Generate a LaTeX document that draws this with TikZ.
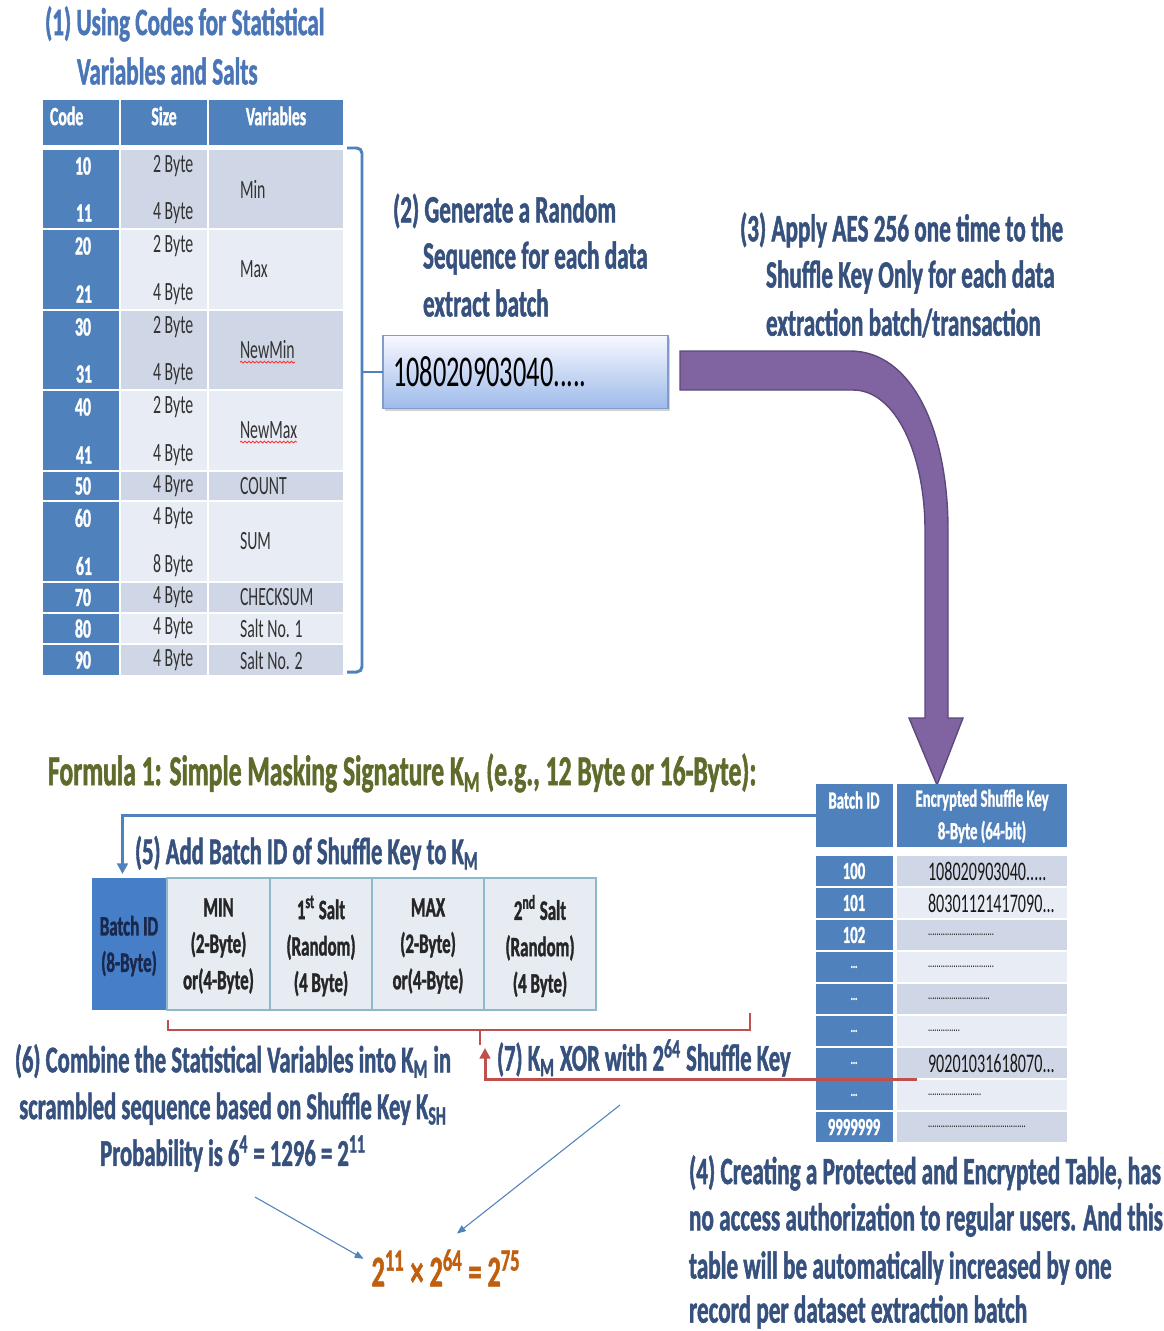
\documentclass[tikz,border=0pt]{standalone}
\usepackage{fontspec}
\setmainfont{Carlito}[FakeStretch=0.6,BoldFeatures={FakeBold=1.2}]
\usetikzlibrary{arrows.meta,calc,shadows,decorations.pathmorphing}
\definecolor{tblue}{HTML}{4F81BD}
\definecolor{hblue}{HTML}{4A76B8}
\definecolor{dkblue}{HTML}{36517D}
\definecolor{olive}{HTML}{5E6B2A}
\definecolor{orng}{HTML}{C0600E}
\definecolor{purp}{HTML}{8064A2}
\definecolor{purpd}{HTML}{5C4A7D}
\definecolor{redl}{HTML}{C0504D}
\definecolor{shDk}{HTML}{CFD7E6}
\definecolor{shLt}{HTML}{E8ECF4}
\definecolor{mbfill}{HTML}{E6ECF2}
\definecolor{mbdraw}{HTML}{8CB8C8}
\newcommand\cellbox[7]{\node[#2,minimum width={(#5-#3)*0.2mm},minimum height={(#6-#4)*0.2mm}] (#1) at ({(#3+#5)/2},{(#4+#6)/2}) {#7};}
\newcommand\dd[1]{{\fontsize{8}{8}\selectfont #1}}
\newcommand\trow[4]{%
  \pgfmathsetmacro\ya{856+(#1-1)*32}%
  \pgfmathsetmacro\yb{\ya+29.5}%
  \cellbox{t2c#1}{codecell}{816}{\ya}{893}{\yb}{}
  \cellbox{t2k#1}{#4}{897}{\ya}{1067}{\yb}{}
  \node[t2txt] (t2ct#1) at ({854},{\ya+15}) {#2};
  \node[keytxt] (t2kt#1) at ({928},{\ya+15}) {#3};
}
\begin{document}
\begin{tikzpicture}[x=0.2mm,y=-0.2mm,
  every node/.style={inner sep=0pt,outer sep=0pt},
  hA/.style={anchor=west,text=hblue,font=\bfseries\fontsize{22}{26}\selectfont},
  hB/.style={anchor=west,text=dkblue,font=\bfseries\fontsize{22}{26}\selectfont},
  hC/.style={anchor=west,text=dkblue,font=\bfseries\fontsize{21.5}{26.6}\selectfont},
  fml/.style={anchor=west,text=olive,font=\bfseries\fontsize{24.3}{28}\selectfont},
  res/.style={text=orng,font=\bfseries\fontsize{25}{30}\selectfont},
  hdr/.style={fill=tblue},
  codecell/.style={fill=tblue},
  cellDk/.style={fill=shDk},
  cellLt/.style={fill=shLt},
  thtxt/.style={text=white,font=\bfseries\fontsize{15}{18}\selectfont},
  codetxt/.style={text=white,font=\bfseries\fontsize{15}{18}\selectfont},
  celltxt/.style={anchor=west,text=black!80,font=\fontsize{15}{18}\selectfont},
  t2txt/.style={text=white,font=\bfseries\fontsize{14}{17}\selectfont},
  keytxt/.style={anchor=west,text=black!90,font=\fontsize{15.3}{17}\selectfont},
  mbcell/.style={fill=mbfill,draw=mbdraw,line width=1.2pt},
  mbtxt/.style={align=center,text=black!85,font=\bfseries\fontsize{16}{20.7}\selectfont},
  numbox/.style={top color=blue!3!white,bottom color={rgb,255:red,157;green,187;blue,234},draw={rgb,255:red,130;green,155;blue,200},line width=0.8pt,drop shadow={opacity=0.35,shadow xshift=1.2pt,shadow yshift=-1.2pt}},
  brk/.style={draw=tblue,line width=1.7pt},
  bline/.style={draw=tblue,line width=1.7pt},
  rdline/.style={draw=redl,line width=1.7pt},
  rdthin/.style={draw=redl,line width=0.7pt},
  thinar/.style={draw=tblue,line width=0.6pt,-{Triangle[width=4pt,length=5pt]}},
  spell/.style={draw=red!80,line width=0.5pt,decorate,decoration={snake,amplitude=0.5pt,segment length=2.2pt}}
]
\fill[white] (0,0) rectangle (1163,1331);
\useasboundingbox (0,0) rectangle (1163,1331);

% (1) heading
\node[hA] (t1a) at (45,24) {(1) Using Codes for Statistical};
\node[hA] (t1b) at (77,71) {Variables and Salts};

% table 1 header
\cellbox{th1}{hdr}{43}{100}{119}{145}{}
\cellbox{th2}{hdr}{121}{100}{207}{145}{}
\cellbox{th3}{hdr}{209}{100}{343}{145}{}
\node[thtxt,anchor=west] (thc) at (50,116) {Code};
\node[thtxt] (ths) at (164,116) {Size};
\node[thtxt] (thv) at (276,116) {Variables};

% table 1 double rows
\foreach \ya/\yb/\ca/\cb/\sa/\sb/\v/\sh [count=\i] in {150/228/10/11/2 Byte/4 Byte/Min/cellDk,230/309/20/21/2 Byte/4 Byte/Max/cellLt,311/389/30/31/2 Byte/4 Byte/NewMin/cellDk,391/470/40/41/2 Byte/4 Byte/NewMax/cellLt,502/581/60/61/4 Byte/8 Byte/SUM/cellLt}{
  \cellbox{dc\i}{codecell}{43}{\ya}{119}{\yb}{}
  \cellbox{ds\i}{\sh}{121}{\ya}{207}{\yb}{}
  \cellbox{dv\i}{\sh}{209}{\ya}{343}{\yb}{}
  \node[codetxt] (dca\i) at ({83},{\ya+16}) {\ca};
  \node[codetxt] (dcb\i) at ({84},{\yb-15}) {\cb};
  \node[celltxt] (dsa\i) at ({153},{\ya+16}) {\sa};
  \node[celltxt] (dsb\i) at ({153},{\yb-15}) {\sb};
  \node[celltxt] (dvv\i) at ({240},{(\ya+\yb)/2}) {\v};
}
% table 1 single rows
\foreach \ya/\yb/\ca/\sa/\v/\sh [count=\i] in {472/500/50/4 Byre/COUNT/cellDk,583/612/70/4 Byte/CHECKSUM/cellDk,614/643/80/4 Byte/Salt No. 1/cellLt,645/675/90/4 Byte/Salt No. 2/cellDk}{
  \cellbox{sc\i}{codecell}{43}{\ya}{119}{\yb}{}
  \cellbox{ss\i}{\sh}{121}{\ya}{207}{\yb}{}
  \cellbox{sv\i}{\sh}{209}{\ya}{343}{\yb}{}
  \node[codetxt] (sca\i) at ({83},{(\ya+\yb)/2}) {\ca};
  \node[celltxt] (ssa\i) at ({153},{(\ya+\yb)/2}) {\sa};
  \node[celltxt] (svv\i) at ({240},{(\ya+\yb)/2}) {\v};
}
\draw[spell] ($(dvv3.south west)+(0,3)$) -- ($(dvv3.south east)+(0,3)$);
\draw[spell] ($(dvv4.south west)+(0,3)$) -- ($(dvv4.south east)+(0,3)$);

% box (2)
\node[numbox,minimum width={285*0.2mm},minimum height={73*0.2mm}] (b2) at (525.5,372) {};
\node[anchor=west,font=\fontsize{25}{29}\selectfont] (b2t) at ($(b2.west)+(10,0)$) {108020903040.....};

% bracket
\draw[brk,rounded corners=3pt] (347,148) -| (362,672) -- (347,672);
\draw[brk] (362,372) -- (b2.west);

% (2) and (3) texts
\node[hB] (t2a) at (393,211) {(2) Generate a Random};
\node[hB] (t2b) at (423,258) {Sequence for each data};
\node[hB] (t2c) at (423,303) {extract batch};
\node[hB] (t3a) at (740,230) {(3) Apply AES 256 one time to the};
\node[hB] (t3b) at (766,277) {Shuffle Key Only for each data};
\node[hB] (t3c) at (766,323) {extraction batch/transaction};

% purple arrow
\filldraw[fill=purp,draw=purpd,line width=0.8pt]
  (680,351) -- (850,351) .. controls (912,351) and (948,430) .. (948,530)
  -- (948,718) -- (963,718) -- (937,785) -- (909,718) -- (925,718) -- (925,530)
  .. controls (925,455) and (896,390) .. (853,390) -- (680,390) -- cycle;

% formula
\node[fml] (f1) at (48,773) {Formula 1: Simple Masking Signature K\textsubscript{M} (e.g., 12 Byte or 16-Byte):};

% table 2
\cellbox{t2h1}{hdr}{816}{784}{893}{847}{}
\cellbox{t2h2}{hdr}{897}{784}{1067}{847}{}
\node[t2txt] (t2hb) at (854,800) {Batch ID};
\node[t2txt] (t2he) at (982,800) {Encrypted Shuffle Key};
\node[t2txt] (t2hs) at (982,832) {8-Byte (64-bit)};
\trow{1}{100}{108020903040.....}{cellDk}
\trow{2}{101}{80301121417090...}{cellLt}
\trow{3}{102}{\dd{...............................}}{cellDk}
\trow{4}{\dd{...}}{\dd{...............................}}{cellLt}
\trow{5}{\dd{...}}{\dd{.............................}}{cellDk}
\trow{6}{\dd{...}}{\dd{...............}}{cellLt}
\trow{7}{\dd{...}}{90201031618070...}{cellDk}
\trow{8}{\dd{...}}{\dd{.........................}}{cellLt}
\trow{9}{9999999}{\dd{..............................................}}{cellDk}

% (5) line and text
\node[hC] (t5) at (135,853) {(5) Add Batch ID of Shuffle Key to K\textsubscript{M}};

% masking table
\cellbox{mb1}{fill={rgb,255:red,70;green,126;blue,200}}{92}{878}{167}{1010}{}
\cellbox{mb2}{mbcell}{167}{878}{270}{1010}{}
\cellbox{mb3}{mbcell}{270}{878}{372}{1010}{}
\cellbox{mb4}{mbcell}{372}{878}{484}{1010}{}
\cellbox{mb5}{mbcell}{484}{878}{596}{1010}{}
\node[mbtxt,text={rgb,255:red,25;green,40;blue,75}] (mb1t) at (129,946) {Batch ID\\(8-Byte)};
\node[mbtxt] (mb2t) at (218.5,946) {MIN\\(2-Byte)\\or(4-Byte)};
\node[mbtxt] (mb3t) at (321,946) {1\textsuperscript{st} Salt\\(Random)\\(4 Byte)};
\node[mbtxt] (mb4t) at (428,946) {MAX\\(2-Byte)\\or(4-Byte)};
\node[mbtxt] (mb5t) at (540,946) {2\textsuperscript{nd} Salt\\(Random)\\(4 Byte)};
\draw[bline,-{Triangle[width=6pt,length=6pt]}] (t2h1.west) -| ($(mb1.north)+(-7,-4)$);

% red bracket
\coordinate (rbL) at ($(mb2.south west)+(1,10)$);
\coordinate (rbR) at (750,1013);
\draw[rdthin] (rbL) |- (750,1030) -- (rbR);
\draw[rdthin] (480,1030) -- (480,1045);

% red arrow (7)
\coordinate (rtip) at (485,1048);
\draw[rdline,-{Triangle[width=6pt,length=6pt]}] ($(t2k7.south west)+(20,2)$) -| (rtip);
\node[hC] (t7) at (497,1058) {(7) K\textsubscript{M} XOR with 2\textsuperscript{64} Shuffle Key};

% (6)
\node[hC,anchor=center,align=center] (t6) at (233,1108) {(6) Combine the Statistical Variables into K\textsubscript{M} in\\scrambled sequence based on Shuffle Key K\textsubscript{SH}\\Probability is 6\textsuperscript{4} = 1296 = 2\textsuperscript{11}};

% result
\node[res] (r) at (446,1268) {2\textsuperscript{11} × 2\textsuperscript{64} = 2\textsuperscript{75}};
\coordinate (a6s) at (255,1197);
\coordinate (a7s) at (620,1105);
\draw[thinar] (a6s) -- ($(r.west)!0.5!(r.north west)+(-8,0)$);
\draw[thinar] (a7s) -- ($(r.north)+(11,-16)$);

% (4)
\node[hB] (t4a) at (689,1173) {(4) Creating a Protected and Encrypted Table, has};
\node[hB] (t4b) at (689,1220) {no access authorization to regular users. And this};
\node[hB] (t4c) at (689,1268) {table will be automatically increased by one};
\node[hB] (t4d) at (689,1312) {record per dataset extraction batch};
\end{tikzpicture}
\end{document}
